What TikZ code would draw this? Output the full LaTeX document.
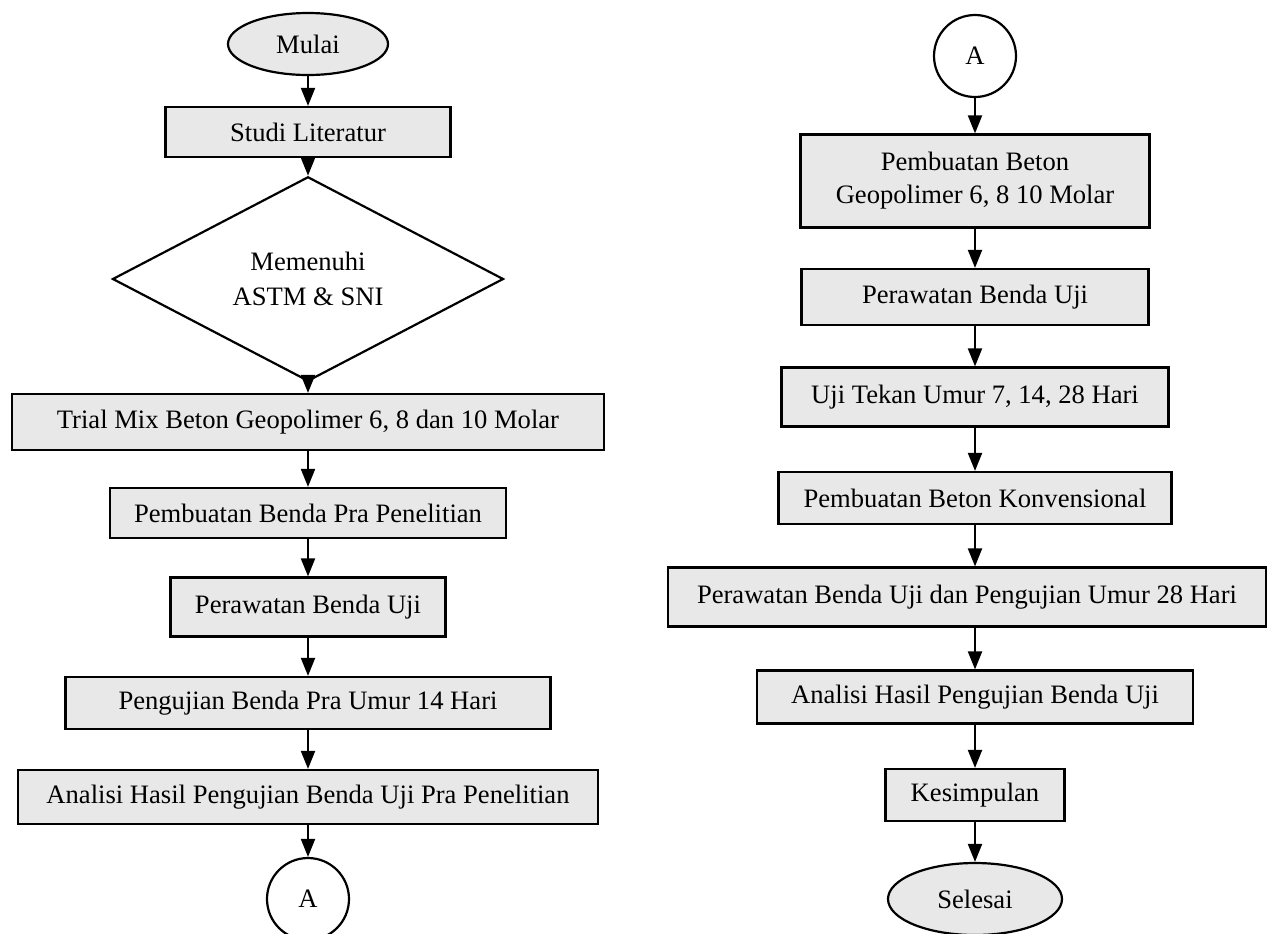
\documentclass[tikz,border=0pt]{standalone}
\usepackage{fontspec}
\setmainfont{Liberation Serif}
\usepackage{tikz}
\usetikzlibrary{shapes.geometric, arrows.meta}

\definecolor{boxGray}{RGB}{232,232,232}

\begin{document}
\begin{tikzpicture}[x=0.5pt, y=-0.5pt,
    font=\fontsize{13.3}{16.5}\selectfont,
    procBox/.style={draw, fill=boxGray, line width=1.1pt, inner sep=0pt, align=center},
    termNode/.style={ellipse, draw, fill=boxGray, line width=1.1pt, inner sep=0pt},
    decNode/.style={diamond, draw, line width=1.1pt, inner sep=0pt, align=center},
    connNode/.style={circle, draw, line width=1.1pt, inner sep=0pt, minimum size=41pt},
    flowArrow/.style={line width=1pt, -{Triangle[length=9pt, width=7pt]}},
  ]
  % canvas in pixel units, y pointing down
  \useasboundingbox (0,0) rectangle (1268,933);

  % left column: start up to the trial mix and connector A
  \node[termNode, minimum width=80pt, minimum height=31pt] (mulai) at (308,44) {Mulai};
  \node[procBox, minimum width=142.5pt, minimum height=25pt] (studi) at (308,132) {Studi Literatur};
  \node[decNode, minimum width=195.5pt, minimum height=84pt,
        font=\fontsize{13.3}{17.5}\selectfont] (cek) at (308,279) {Memenuhi\\ASTM \& SNI};
  \node[procBox, minimum width=296pt, minimum height=28pt] (trial) at (308,422)
    {Trial Mix Beton Geopolimer 6, 8 dan 10 Molar};
  \node[procBox, minimum width=198pt, minimum height=25pt] (pra) at (308,513)
    {Pembuatan Benda Pra Penelitian};
  \node[procBox, minimum width=137.5pt, minimum height=29.5pt] (rawatA) at (308,607)
    {Perawatan Benda Uji};
  \node[procBox, minimum width=242.5pt, minimum height=26pt] (ujiPra) at (308,703)
    {Pengujian Benda Pra Umur 14 Hari};
  \node[procBox, minimum width=290pt, minimum height=27pt] (analisiPra) at (308,797)
    {Analisi Hasil Pengujian Benda Uji Pra Penelitian};
  \node[connNode] (conA) at (308,899) {A};

  \draw[flowArrow] (mulai) -- (studi);
  \draw[flowArrow] (studi) -- (cek);
  \draw[flowArrow] ([yshift=-2pt]cek.south) -- (trial);
  \draw[flowArrow] (trial) -- (pra);
  \draw[flowArrow] (pra) -- (rawatA);
  \draw[flowArrow] (rawatA) -- (ujiPra);
  \draw[flowArrow] (ujiPra) -- (analisiPra);
  \draw[flowArrow] (analisiPra) -- (conA);

  % right column: from connector A down to the end
  \node[connNode] (conB) at (975,56) {A};
  \node[procBox, minimum width=174.5pt, minimum height=46.5pt] (beton) at (975,181)
    {Pembuatan Beton\\Geopolimer 6, 8 10 Molar};
  \node[procBox, minimum width=173.5pt, minimum height=28pt] (rawatB) at (975,297)
    {Perawatan Benda Uji};
  \node[procBox, minimum width=193.5pt, minimum height=29.5pt] (tekan) at (975,397)
    {Uji Tekan Umur 7, 14, 28 Hari};
  \node[procBox, minimum width=196.5pt, minimum height=26pt] (konv) at (975,498)
    {Pembuatan Beton Konvensional};
  \node[procBox, minimum width=299pt, minimum height=29.5pt] (rawatC) at (967,597)
    {Perawatan Benda Uji dan Pengujian Umur 28 Hari};
  \node[procBox, minimum width=218pt, minimum height=26.5pt] (analisiUji) at (975,697)
    {Analisi Hasil Pengujian Benda Uji};
  \node[procBox, minimum width=89.5pt, minimum height=26pt] (simpul) at (975,795)
    {Kesimpulan};
  \node[termNode, minimum width=87pt, minimum height=36pt] (selesai) at (975,899) {Selesai};

  \draw[flowArrow] (conB) -- (beton);
  \draw[flowArrow] (beton) -- (rawatB);
  \draw[flowArrow] (rawatB) -- (tekan);
  \draw[flowArrow] (tekan) -- (konv);
  \draw[flowArrow] (konv) -- (konv |- rawatC.north);
  \draw[flowArrow] (rawatC.south -| analisiUji) -- (analisiUji);
  \draw[flowArrow] (analisiUji) -- (simpul);
  \draw[flowArrow] (simpul) -- (selesai);
\end{tikzpicture}
\end{document}
